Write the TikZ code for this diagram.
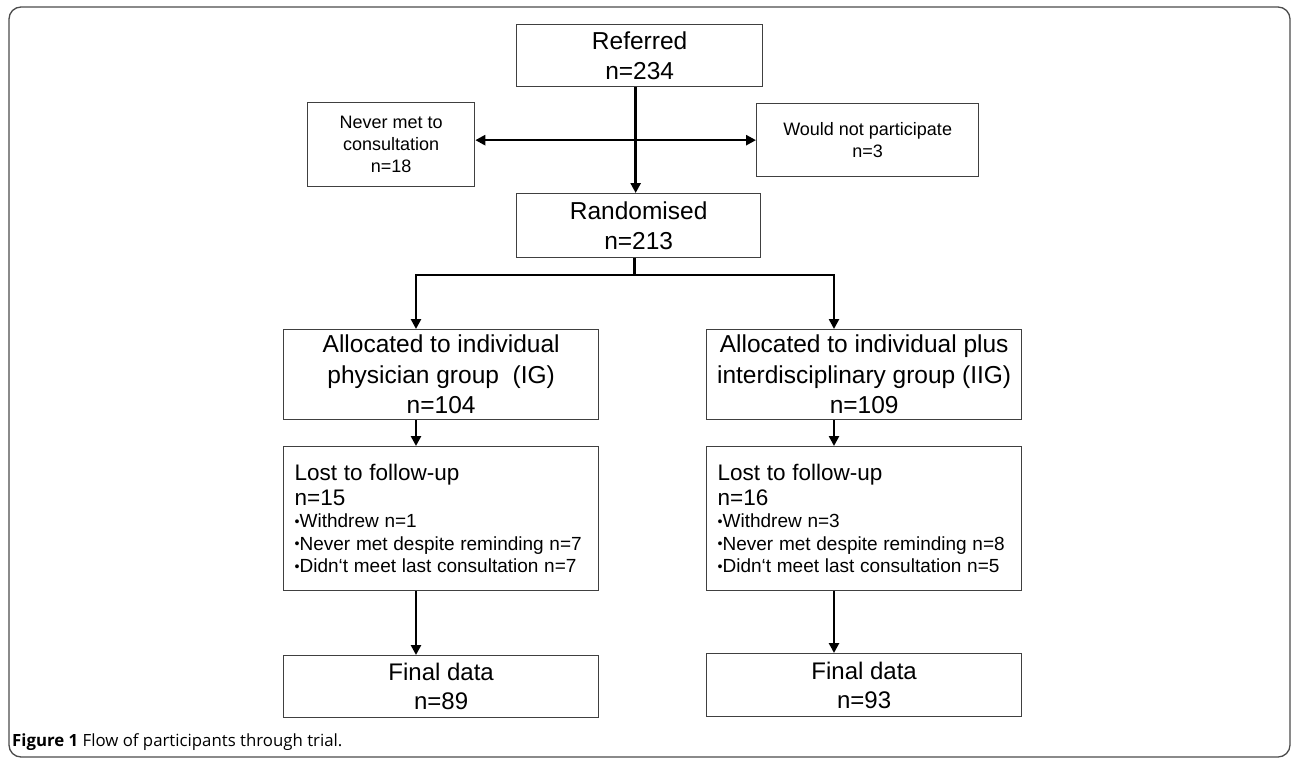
\documentclass[tikz,border=0pt]{standalone}
\usepackage{fontspec}
\setmainfont{Liberation Sans}
\newfontfamily\capfont{Open Sans}
\usetikzlibrary{arrows.meta}
\tikzset{
  box/.style={draw=black!75, line width=1.3pt, inner sep=0pt, anchor=north west, align=center},
  conn/.style={line width=2.6pt, draw=black, line join=miter},
  tip/.tip={Triangle[length=10pt,width=10pt]},
  arr/.style={conn, -tip},
  bigtext/.style={font=\fontsize{24.5}{30.5}\selectfont},
  finaltext/.style={font=\fontsize{24}{29}\selectfont},
  sidetext/.style={font=\fontsize{18}{22}\selectfont},
  lostbox/.style={box, minimum width=315, minimum height=144, inner xsep=11pt, text width=293pt, align=left},
}
\newcommand{\mybul}{\raisebox{0.1em}{\scalebox{0.75}{•}}}
\begin{document}
\begin{tikzpicture}[x=1pt,y=-1pt]
\useasboundingbox (0,0) rectangle (1292,763);
\draw[rounded corners=12pt, draw=black!70, line width=1.3pt] (9,7) rectangle (1290,757);

\node[box, bigtext, minimum width=246, minimum height=62] (ref) at (516,24) {Referred\\n=234};
\node[box, sidetext, minimum width=167, minimum height=84] (never) at (307,102) {Never met to\\consultation\\n=18};
\node[box, sidetext, minimum width=222, minimum height=73] (would) at (756,103) {Would not participate\\n=3};
\node[box, bigtext, minimum width=244, minimum height=64] (rand) at (516,193) {Randomised\\n=213};

\node[box, bigtext, minimum width=315, minimum height=90] (allocL) at (283,329) {Allocated to individual\\physician group\ \ (IG)\\n=104};
\node[box, bigtext, minimum width=315, minimum height=90] (allocR) at (706,329) {Allocated to individual plus\\interdisciplinary group (IIG)\\n=109};

\node[lostbox] (lostL) at (283,446)
 {{\fontsize{22.5}{25}\selectfont\spaceskip=0.3em Lost to follow-up\\n=15\par}%
  {\fontsize{19}{22.5}\selectfont\spaceskip=0.3em\mybul Withdrew n=1\\\mybul Never met despite reminding n=7\\\mybul Didn‘t meet last consultation n=7\par}};
\node[lostbox] (lostR) at (706,446)
 {{\fontsize{22.5}{25}\selectfont\spaceskip=0.3em Lost to follow-up\\n=16\par}%
  {\fontsize{19}{22.5}\selectfont\spaceskip=0.3em\mybul Withdrew n=3\\\mybul Never met despite reminding n=8\\\mybul Didn‘t meet last consultation n=5\par}};

\node[box, finaltext, minimum width=315, minimum height=62] (finL) at (283,655) {Final data\\n=89};
\node[box, finaltext, minimum width=315, minimum height=63] (finR) at (706,653) {Final data\\n=93};

\node[anchor=base west, inner sep=0pt, font=\capfont\fontsize{16.8}{20}\selectfont] (cap) at (12,746) {\textbf{Figure 1} Flow of participants through trial.};

\coordinate (cl) at (416,0);
\coordinate (cr) at (834,0);
\coordinate (bar) at (0,275);

\draw[arr] ([xshift=-4pt]ref.south) -- ([xshift=-4pt]ref.south |- rand.north);
\draw[conn, tip-tip] (never.east |- would.west) -- (would.west);
\draw[conn] ([xshift=-4pt]rand.south) -- ([xshift=-4pt]rand.south |- bar);
\draw[conn, tip-tip] (allocL.north -| cl) -- (cl |- bar) -- (cr |- bar) -- (allocR.north -| cr);
\draw[arr] (allocL.south -| cl) -- (lostL.north -| cl);
\draw[arr] (allocR.south -| cr) -- (lostR.north -| cr);
\draw[arr] (lostL.south -| cl) -- (finL.north -| cl);
\draw[arr] (lostR.south -| cr) -- (finR.north -| cr);
\end{tikzpicture}
\end{document}
